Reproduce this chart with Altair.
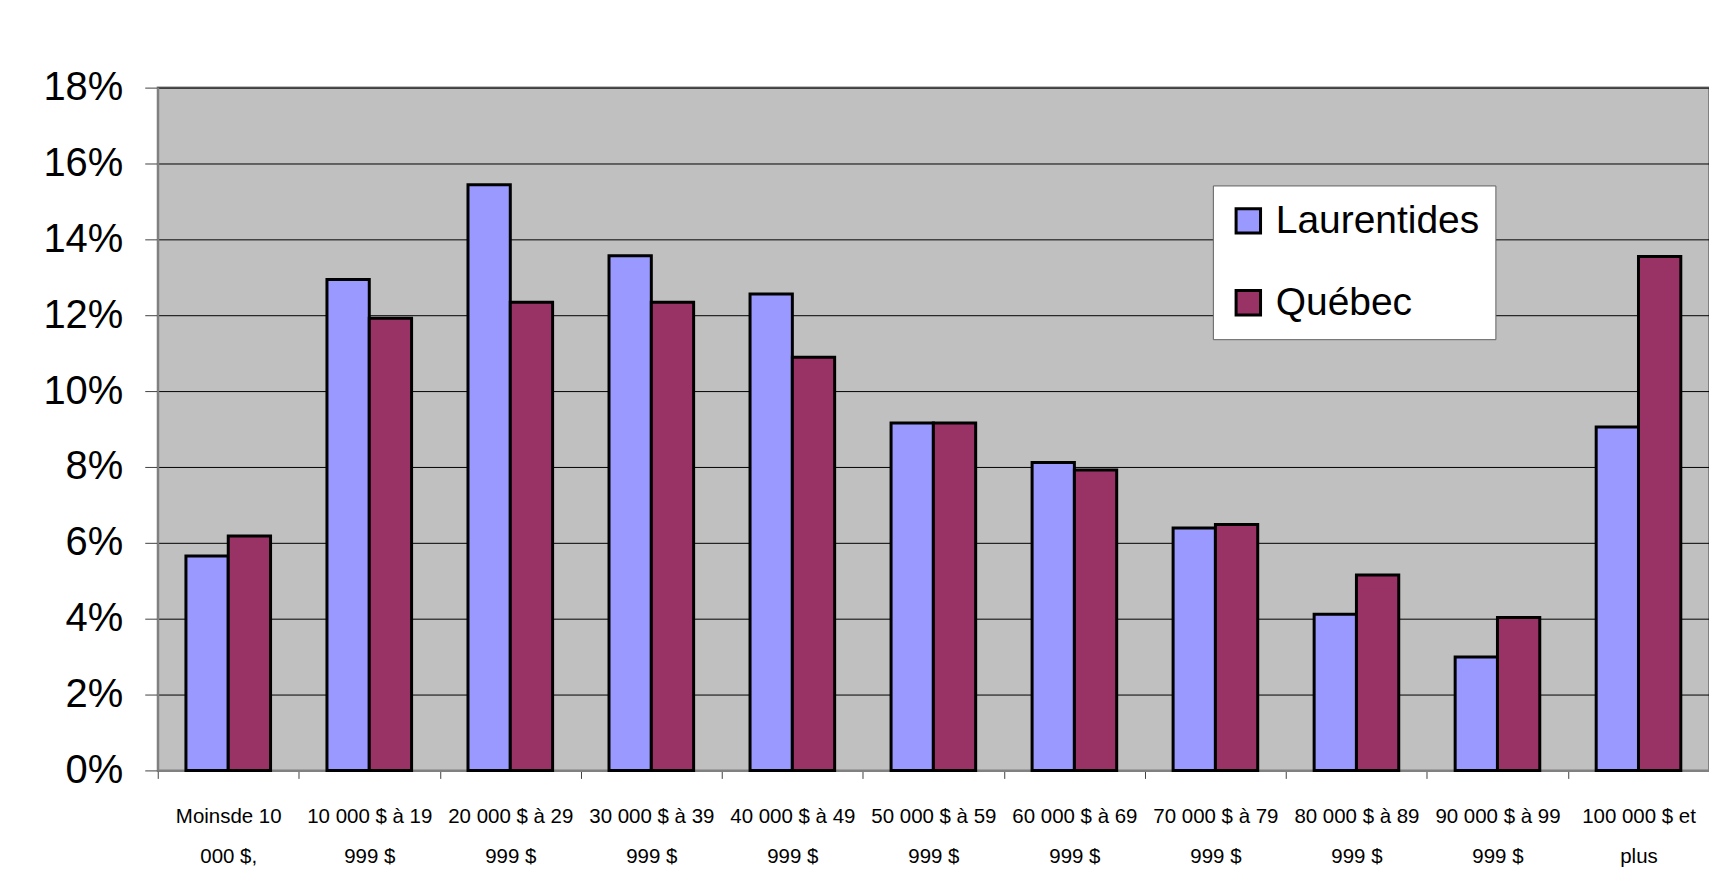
import altair as alt
import pandas as pd

categories = [
    "Moinsde 10\n000 $,",
    "10 000 $ à 19\n999 $",
    "20 000 $ à 29\n999 $",
    "30 000 $ à 39\n999 $",
    "40 000 $ à 49\n999 $",
    "50 000 $ à 59\n999 $",
    "60 000 $ à 69\n999 $",
    "70 000 $ à 79\n999 $",
    "80 000 $ à 89\n999 $",
    "90 000 $ à 99\n999 $",
    "100 000 $ et\nplus",
]
series = ["Laurentides", "Québec"]
laurentides = [5.65, 12.94, 15.44, 13.57, 12.56, 9.16, 8.12, 6.39, 4.12, 2.99, 9.05]
quebec = [6.18, 11.92, 12.34, 12.34, 10.89, 9.16, 7.92, 6.48, 5.15, 4.03, 13.55]
colors = ["#9999FF", "#993366"]
y_ticks = [0, 0.02, 0.04, 0.06, 0.08, 0.10, 0.12, 0.14, 0.16, 0.18]

rows = []
for i, c in enumerate(categories):
    rows.append({"cat": c, "serie": series[0], "val": laurentides[i] / 100})
    rows.append({"cat": c, "serie": series[1], "val": quebec[i] / 100})
df = pd.DataFrame(rows)

FONT = "Liberation Sans, Arial"

chart = alt.Chart(df).mark_bar(stroke="black", strokeWidth=3).encode(
    x=alt.X(
        "cat:N",
        sort=categories,
        scale=alt.Scale(paddingInner=0, paddingOuter=0),
        axis=alt.Axis(
            title=None,
            labelAngle=0,
            labelExpr="split(datum.label, '\\n')",
            labelFont=FONT,
            labelFontSize=20.5,
            labelLineHeight=40,
            labelColor="black",
            labelPadding=28,
            labelBaseline="top",
            labelLimit=200,
            tickBand="extent",
            tickSize=8,
            tickColor="#404040",
            domainColor="#808080",
            domainWidth=2,
        ),
    ),
    xOffset=alt.XOffset(
        "serie:N",
        sort=series,
        scale=alt.Scale(paddingInner=0, paddingOuter=0.6667),
    ),
    y=alt.Y(
        "val:Q",
        scale=alt.Scale(domain=[0, 0.18], nice=False),
        axis=alt.Axis(
            title=None,
            values=y_ticks,
            format=".0%",
            labelFont=FONT,
            labelFontSize=40,
            labelColor="black",
            labelPadding=22,
            tickSize=13,
            tickColor="#404040",
            domainColor="#808080",
            domainWidth=2,
            grid=True,
            gridColor="black",
            gridWidth=1,
        ),
    ),
    color=alt.Color(
        "serie:N",
        sort=series,
        scale=alt.Scale(domain=series, range=colors),
        legend=alt.Legend(
            title=None,
            orient="none",
            legendX=1057,
            legendY=98,
            fillColor="white",
            strokeColor="#606060",
            padding=16,
            labelFont=FONT,
            labelFontSize=39,
            labelColor="black",
            labelLimit=400,
            symbolType="square",
            symbolSize=600,
            symbolStrokeColor="black",
            symbolStrokeWidth=3,
            rowPadding=42,
            labelOffset=8,
        ),
    ),
).properties(
    width=1554,
    height=684,
    background="white",
    padding={"left": 150, "top": 79, "right": 0, "bottom": 100},
    autosize=alt.AutoSizeParams(type="none"),
).configure_view(
    fill="#C0C0C0",
    stroke="#808080",
    strokeWidth=2,
)

chart.save("out.html", embed_options={"renderer": "svg", "actions": False})
